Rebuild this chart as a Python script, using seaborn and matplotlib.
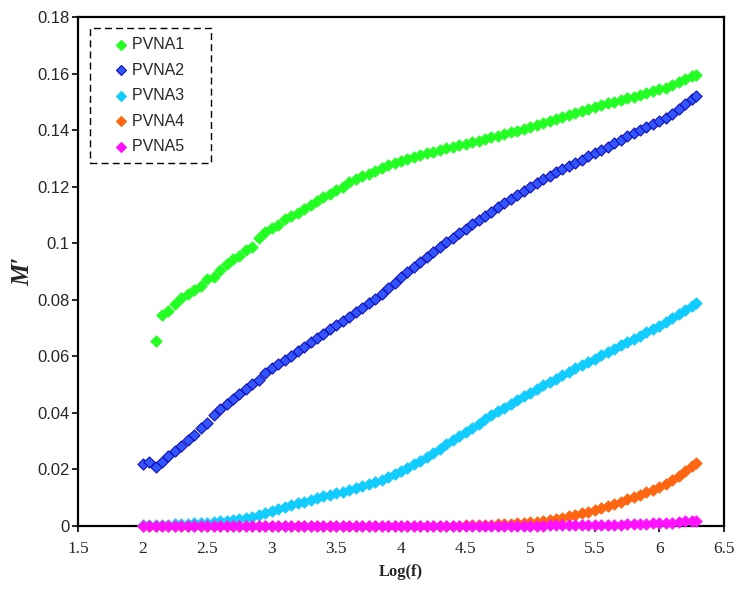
"""
Electric modulus (M') versus Log(f) for PVNA samples
"""

import matplotlib
matplotlib.use("Agg")
import matplotlib.pyplot as plt
import seaborn as sns
import numpy as np
from matplotlib.ticker import FuncFormatter, MultipleLocator

# Data
log_f = [2.00, 2.05, 2.10, 2.15, 2.20, 2.25, 2.30, 2.35, 2.40, 2.45,
         2.50, 2.55, 2.60, 2.65, 2.70, 2.75, 2.80, 2.85, 2.90, 2.95,
         3.00, 3.05, 3.10, 3.15, 3.20, 3.25, 3.30, 3.35, 3.40, 3.45,
         3.50, 3.55, 3.60, 3.65, 3.70, 3.75, 3.80, 3.85, 3.90, 3.95,
         4.00, 4.05, 4.10, 4.15, 4.20, 4.25, 4.30, 4.35, 4.40, 4.45,
         4.50, 4.55, 4.60, 4.65, 4.70, 4.75, 4.80, 4.85, 4.90, 4.95,
         5.00, 5.05, 5.10, 5.15, 5.20, 5.25, 5.30, 5.35, 5.40, 5.45,
         5.50, 5.55, 5.60, 5.65, 5.70, 5.75, 5.80, 5.85, 5.90, 5.95,
         6.00, 6.05, 6.10, 6.15, 6.20, 6.25, 6.28]

pvna1 = [np.nan, np.nan, 0.0655, 0.0745, 0.0760, 0.0785, 0.0805, 0.0822, 0.0835, 0.0850,
         0.0872, 0.0880, 0.0905, 0.0925, 0.0945, 0.0955, 0.0975, 0.0985, 0.1020, 0.1040,
         0.1055, 0.1065, 0.1085, 0.1095, 0.1108, 0.1120, 0.1135, 0.1148, 0.1162, 0.1175,
         0.1188, 0.1200, 0.1215, 0.1226, 0.1236, 0.1246, 0.1256, 0.1265, 0.1275, 0.1282,
         0.1290, 0.1298, 0.1305, 0.1312, 0.1318, 0.1324, 0.1330, 0.1336, 0.1342, 0.1347,
         0.1352, 0.1358, 0.1363, 0.1368, 0.1374, 0.1380, 0.1386, 0.1392, 0.1398, 0.1404,
         0.1410, 0.1418, 0.1425, 0.1432, 0.1439, 0.1446, 0.1453, 0.1460, 0.1467, 0.1475,
         0.1482, 0.1489, 0.1495, 0.1501, 0.1507, 0.1513, 0.1518, 0.1524, 0.1531, 0.1538,
         0.1545, 0.1550, 0.1560, 0.1570, 0.1580, 0.1590, 0.1595]

pvna2 = [0.0218, 0.0226, 0.0210, 0.0228, 0.0248, 0.0266, 0.0284, 0.0303, 0.0323, 0.0345,
         0.0366, 0.0392, 0.0415, 0.0433, 0.0450, 0.0468, 0.0485, 0.0501, 0.0518, 0.0540,
         0.0558, 0.0572, 0.0587, 0.0602, 0.0618, 0.0634, 0.0650, 0.0665, 0.0680, 0.0695,
         0.0710, 0.0725, 0.0740, 0.0756, 0.0772, 0.0787, 0.0803, 0.0820, 0.0840, 0.0860,
         0.0880, 0.0898, 0.0916, 0.0934, 0.0952, 0.0970, 0.0988, 0.1005, 0.1020, 0.1036,
         0.1051, 0.1067, 0.1082, 0.1097, 0.1112, 0.1127, 0.1141, 0.1155, 0.1169, 0.1183,
         0.1198, 0.1212, 0.1226, 0.1239, 0.1251, 0.1262, 0.1273, 0.1284, 0.1295, 0.1307,
         0.1318, 0.1330, 0.1342, 0.1354, 0.1366, 0.1378, 0.1390, 0.1400, 0.1410, 0.1421,
         0.1432, 0.1443, 0.1456, 0.1473, 0.1492, 0.1510, 0.1522]

pvna3 = [0.0002, 0.0003, 0.0003, 0.0004, 0.0005, 0.0006, 0.0007, 0.0008, 0.0009, 0.0011,
         0.0012, 0.0014, 0.0016, 0.0019, 0.0022, 0.0025, 0.0028, 0.0032, 0.0038, 0.0045,
         0.0052, 0.0059, 0.0066, 0.0073, 0.0080, 0.0086, 0.0092, 0.0099, 0.0105, 0.0110,
         0.0116, 0.0121, 0.0127, 0.0134, 0.0141, 0.0148, 0.0155, 0.0162, 0.0172, 0.0183,
         0.0195, 0.0206, 0.0218, 0.0231, 0.0245, 0.0259, 0.0274, 0.0289, 0.0303, 0.0318,
         0.0332, 0.0347, 0.0362, 0.0377, 0.0391, 0.0405, 0.0418, 0.0432, 0.0446, 0.0459,
         0.0472, 0.0485, 0.0497, 0.0509, 0.0521, 0.0533, 0.0545, 0.0557, 0.0568, 0.0580,
         0.0592, 0.0604, 0.0616, 0.0627, 0.0639, 0.0650, 0.0662, 0.0673, 0.0685, 0.0697,
         0.0709, 0.0722, 0.0735, 0.0748, 0.0763, 0.0778, 0.0790]

pvna4 = [0.0001, 0.0001, 0.0001, 0.0001, 0.0001, 0.0001, 0.0001, 0.0001, 0.0001, 0.0001,
         0.0001, 0.0001, 0.0001, 0.0001, 0.0001, 0.0001, 0.0001, 0.0001, 0.0001, 0.0001,
         0.0001, 0.0001, 0.0001, 0.0001, 0.0001, 0.0001, 0.0001, 0.0001, 0.0001, 0.0001,
         0.0001, 0.0001, 0.0001, 0.0001, 0.0001, 0.0001, 0.0001, 0.0001, 0.0001, 0.0001,
         0.0001, 0.0001, 0.0001, 0.0001, 0.0001, 0.0001, 0.0001, 0.0001, 0.0001, 0.0001,
         0.0002, 0.0003, 0.0004, 0.0005, 0.0005, 0.0006, 0.0007, 0.0008, 0.0009, 0.0011,
         0.0013, 0.0015, 0.0018, 0.0022, 0.0026, 0.0030, 0.0034, 0.0039, 0.0045, 0.0051,
         0.0057, 0.0063, 0.0070, 0.0078, 0.0086, 0.0094, 0.0102, 0.0111, 0.0120, 0.0129,
         0.0138, 0.0149, 0.0162, 0.0178, 0.0194, 0.0212, 0.0222]

pvna5 = [0.0000, 0.0000, 0.0000, 0.0000, 0.0000, 0.0000, 0.0000, 0.0000, 0.0000, 0.0000,
         0.0000, 0.0000, 0.0000, 0.0000, 0.0000, 0.0000, 0.0000, 0.0000, 0.0000, 0.0000,
         0.0000, 0.0000, 0.0000, 0.0000, 0.0000, 0.0000, 0.0000, 0.0000, 0.0000, 0.0000,
         0.0000, 0.0000, 0.0000, 0.0000, 0.0000, 0.0000, 0.0000, 0.0000, 0.0000, 0.0000,
         0.0000, 0.0000, 0.0000, 0.0000, 0.0000, 0.0000, 0.0000, 0.0000, 0.0000, 0.0000,
         0.0000, 0.0000, 0.0000, 0.0000, 0.0000, 0.0000, 0.0000, 0.0000, 0.0000, 0.0000,
         0.0001, 0.0001, 0.0001, 0.0002, 0.0002, 0.0002, 0.0003, 0.0003, 0.0003, 0.0003,
         0.0004, 0.0004, 0.0004, 0.0005, 0.0005, 0.0006, 0.0006, 0.0007, 0.0008, 0.0009,
         0.0010, 0.0011, 0.0012, 0.0014, 0.0016, 0.0018, 0.0019]

series_names = ['PVNA1', 'PVNA2', 'PVNA3', 'PVNA4', 'PVNA5']
series_values = [pvna1, pvna2, pvna3, pvna4, pvna5]
face_colors = ['#22FF22', '#3355FF', '#11CCFF', '#FF6611', '#FF11FF']
edge_colors = ['#22FF22', '#1111BB', '#11CCFF', '#FF6611', '#FF11FF']

sns.set_style("ticks")
plt.rcParams['font.family'] = ['Liberation Sans', 'DejaVu Sans']

fig = plt.figure(figsize=(7.38, 5.93), dpi=100)
ax = fig.add_axes([0.1057, 0.113, 0.8753, 0.8583])

for name, vals, fc, ec in zip(series_names, series_values, face_colors, edge_colors):
    # trailing spaces widen the legend box like the original
    sns.scatterplot(x=log_f, y=vals, marker='D', s=32, color=fc,
                    edgecolor=ec, linewidth=0.8, label=name + '    ', ax=ax,
                    clip_on=False, zorder=3)

ax.set_xlim(1.5, 6.5)
ax.set_ylim(0, 0.18)
ax.xaxis.set_major_locator(MultipleLocator(0.5))
ax.yaxis.set_major_locator(MultipleLocator(0.02))
ax.xaxis.set_major_formatter(FuncFormatter(lambda v, p: f"{v:g}"))
ax.yaxis.set_major_formatter(FuncFormatter(lambda v, p: f"{round(v, 2):g}"))

for spine in ax.spines.values():
    spine.set_linewidth(1.6)
    spine.set_color('black')

ax.tick_params(axis='both', direction='out', length=4, width=1.2, color='black')
ax.tick_params(axis='y', labelsize=12, pad=2)
ax.tick_params(axis='x', labelsize=12.5, pad=7)
for lbl in ax.get_xticklabels():
    lbl.set_family('Liberation Serif')

ax.set_xlabel('Log(f)', fontsize=12, fontweight='bold', family='Liberation Serif', labelpad=5)
ax.set_ylabel('M\u2032', fontsize=18, fontweight='bold', fontstyle='italic',
              family='Liberation Serif', labelpad=2)

leg = ax.legend(loc='upper left', bbox_to_anchor=(0.0186, 0.978), borderaxespad=0,
                frameon=True, fancybox=False, fontsize=11.5, labelspacing=0.66,
                handlelength=2.8, handletextpad=-0.7, borderpad=0.55, markerscale=0.9)
frame = leg.get_frame()
frame.set_edgecolor('black')
frame.set_linestyle((0, (5, 3)))
frame.set_linewidth(1.0)
frame.set_alpha(1)

fig.savefig('out.png', dpi=100)
plt.close(fig)
